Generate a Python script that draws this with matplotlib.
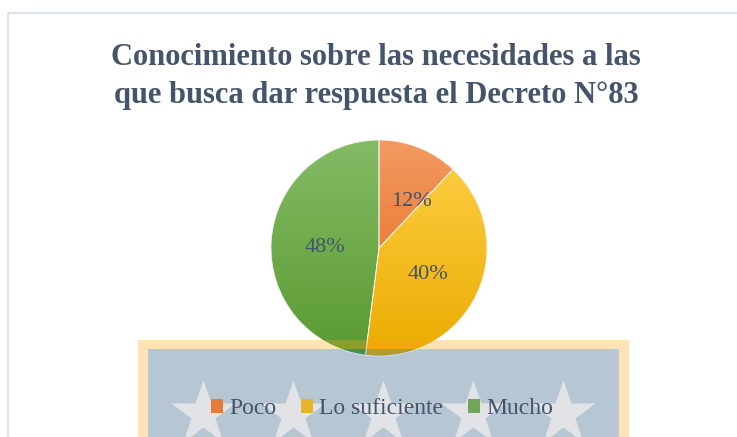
import numpy as np
import matplotlib
matplotlib.use('Agg')
import matplotlib.pyplot as plt
from matplotlib.patches import Rectangle, Circle, Patch
from matplotlib.colors import LinearSegmentedColormap

plt.rcParams['font.family'] = ['Liberation Serif', 'DejaVu Serif']

# data
title_lines = ['Conocimiento sobre las necesidades a las',
               'que busca dar respuesta el Decreto N°83']
labels = ['Poco', 'Lo suficiente', 'Mucho']
values = [12, 40, 48]
# gradient colours: light (top of pie) -> dark (bottom of pie)
grad_top = ['#F39A62', '#FFD04A', '#84BB66']
grad_bot = ['#E2650F', '#EBAC00', '#5A9A30']
legend_colors = ['#E57A3C', '#E8B52A', '#6FA658']

text_color = '#44546A'
W, H = 737, 437
cx, cy, r = 379, 248, 108          # pie centre / radius in pixels
box_out = (138, 340, 629, 450)     # peach frame of the legend picture
box_in = (148, 349, 619, 450)      # blue inner panel

fig = plt.figure(figsize=(W / 100, H / 100), dpi=100)
bg = fig.add_axes([0, 0, 1, 1], zorder=0)
bg.set_xlim(0, W)
bg.set_ylim(H, 0)
bg.axis('off')

# chart area border
bg.add_patch(Rectangle((8.5, 12.5), W + 10, H + 10, fill=False,
                       edgecolor='#DDE3EA', linewidth=1.5))

# title
for i, line in enumerate(title_lines):
    bg.text(376, 65 + 38 * i, line, ha='center', va='baseline', fontsize=22,
            fontweight='bold', color=text_color)

# legend picture: peach frame, blue panel, white stars
bg.add_patch(Rectangle((box_out[0], box_out[1]), box_out[2] - box_out[0],
                       box_out[3] - box_out[1], facecolor='#FFE3B5', edgecolor='none'))
bg.add_patch(Rectangle((box_in[0], box_in[1]), box_in[2] - box_in[0],
                       box_in[3] - box_in[1], facecolor='#B7C6D3', edgecolor='none'))
star_x = np.arange(203, 564, 90)
bg.plot(star_x, np.full(len(star_x), 414), linestyle='none', marker='*',
        markersize=49, markerfacecolor='#E1E3E6', markeredgecolor='none')

# pie
pax = fig.add_axes([(cx - r) / W, 1 - (cy + r) / H, 2 * r / W, 2 * r / H], zorder=1)
wedges, texts, autotexts = pax.pie(
    values, startangle=90, counterclock=False, radius=1, colors=legend_colors,
    autopct='%1.0f%%', pctdistance=0.5,
    wedgeprops=dict(edgecolor='#F4F4F4', linewidth=0.6),
    textprops=dict(fontsize=16, color=text_color))
pax.set_xlim(-1, 1)
pax.set_ylim(-1, 1)
pax.set_aspect('equal')
pax.axis('off')

grad = np.linspace(0, 1, 256).reshape(-1, 1)
for w, c0, c1 in zip(wedges, grad_top, grad_bot):
    cmap = LinearSegmentedColormap.from_list('g', [c0, c1])
    im = pax.imshow(grad, cmap=cmap, extent=(-1, 1, -1, 1), origin='upper',
                    aspect='auto', zorder=2)
    im.set_clip_path(w)
    w.set_zorder(3)
    w.set_facecolor('none')
for t in autotexts:
    t.set_zorder(5)
    x0, y0 = t.get_position()
    t.set_position((x0, y0 - 0.03))
x0, y0 = autotexts[0].get_position()
autotexts[0].set_position((x0 + 0.12, y0))

# the picture frame shows over the bottom of the pie
circ = Circle((0, 0), 1, transform=pax.transData)
ov1 = Rectangle((box_out[0], box_out[1]), box_out[2] - box_out[0], box_in[1] - box_out[1],
                transform=bg.transData, facecolor='#F7A328', alpha=0.3,
                edgecolor='none', zorder=4)
ov2 = Rectangle((box_in[0], box_in[1]), box_in[2] - box_in[0], box_in[3] - box_in[1],
                transform=bg.transData, facecolor='#1168C8', alpha=0.26,
                edgecolor='none', zorder=4)
for ov in (ov1, ov2):
    pax.add_artist(ov)
    ov.set_clip_path(circ)

# legend
handles = [Patch(facecolor=c, edgecolor='none') for c in legend_colors]
leg = fig.legend(handles, labels, loc='center', bbox_to_anchor=(382 / W, 1 - 409 / H),
                 ncol=3, frameon=False, fontsize=17, handlelength=0.52,
                 handleheight=0.52, handletextpad=0.25, columnspacing=1.05)
for t in leg.get_texts():
    t.set_color(text_color)

fig.savefig('out.png', dpi=100)
